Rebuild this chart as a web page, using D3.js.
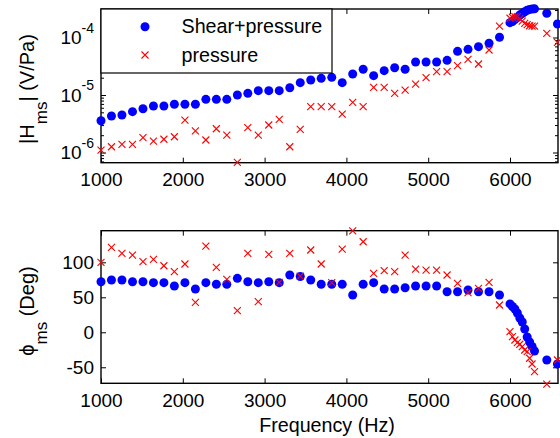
<!DOCTYPE html>
<html><head><meta charset="utf-8">
<script src="https://cdn.jsdelivr.net/npm/d3@7"></script>
<style>
body{margin:0;background:#fff}
svg text{font-family:"Liberation Sans",Arial,sans-serif;fill:#000}
</style></head><body>
<svg id="fig" width="560" height="438"></svg>
<script>
// Measurement frequencies (Hz)
const freq = [1000,1128,1256,1385,1513,1641,1769,1897,2026,2154,2282,2410,2538,2667,2795,2923,3051,3179,3308,3436,
  3564,3692,3821,3949,4077,4205,4333,4462,4590,4718,4846,4974,5103,5231,5359,5487,5615,5744,5872,6000,
  6030,6060,6090,6120,6150,6180,6210,6240,6270,6300,6450,6580];
// |H_ms| magnitude (V/Pa)
const shearMag = [3.57e-6,4.31e-6,4.49e-6,5.13e-6,5.78e-6,6.44e-6,6.44e-6,6.9e-6,6.9e-6,6.9e-6,8.4e-6,8.4e-6,8.4e-6,1.0e-5,1.07e-5,1.19e-5,1.19e-5,1.19e-5,1.34e-5,1.64e-5,
  1.82e-5,1.95e-5,2.03e-5,1.64e-5,2.32e-5,2.8e-5,2.17e-5,2.65e-5,2.98e-5,2.8e-5,3.75e-5,3.75e-5,3.75e-5,4.01e-5,5.75e-5,6.23e-5,6.92e-5,7.93e-5,1.01e-4,1.81e-4,
  1.9e-4,2.06e-4,2.23e-4,2.46e-4,2.61e-4,2.81e-4,2.98e-4,3.08e-4,3.12e-4,3.15e-4,2.64e-4,1.72e-4];
const pressMag = [1.10e-6,1.26e-6,1.39e-6,1.39e-6,1.81e-6,1.58e-6,1.70e-6,1.88e-6,3.67e-6,2.37e-6,1.65e-6,2.59e-6,2.01e-6,6.76e-7,2.70e-6,2.01e-6,3.01e-6,3.78e-6,1.26e-6,2.53e-6,
  6.3e-6,6.3e-6,6.26e-6,4.67e-6,7.46e-6,6.26e-6,1.36e-5,1.36e-5,1.07e-5,1.22e-5,1.55e-5,2.0e-5,2.54e-5,2.54e-5,3.23e-5,4.18e-5,3.46e-5,6.06e-5,1.58e-4,2.16e-4,
  2.25e-4,2.3e-4,2.3e-4,2.12e-4,1.93e-4,1.76e-4,1.68e-4,1.6e-4,1.58e-4,1.58e-4,1.18e-4,8.2e-5];
// phi_ms phase (degrees)
const shearPhase = [72.3,74.7,74.7,72.3,72.3,70.9,70.9,66.1,70.9,61.9,70.9,68.6,68.6,77.1,72.3,70.9,72.3,70.9,81.9,79.7,
  74.7,68.6,68.6,68.6,53.3,68.6,70.9,61.9,61.9,63.7,66.1,66.1,66.1,58,58,60.4,58,58,53.3,40.6,
  36.9,33.3,27.6,20.4,14.7,4.7,-6.7,-13.9,-20.3,-26.7,-39.6,-45.3];
const pressPhase = [100,121.4,112.9,110.4,100.9,104.3,95.1,86.6,97.6,42.9,123.3,92.9,75.7,30.9,112.9,43.7,111.4,71.4,112.9,80.4,
  117.6,97.6,70.9,119,145,129.4,84.3,88,86.6,110.4,90.4,89,89,81.9,70,56.6,62.9,71.4,39,0.9,
  -6.3,-11,-14.9,-17.1,-20.6,-25.3,-27.7,-37.1,-45.3,-56.3,-74,-39.6];

const freqTicks = [1000,2000,3000,4000,5000,6000];
const magTicks = [1e-6,1e-5,1e-4];
const phaseTicks = [-50,0,50,100];
const seriesNames = ["Shear+pressure","pressure"];

const BLUE = "#0000ff", RED = "#ff0000";
const svg = d3.select("#fig");
const L = 101, R = 558;
const x = d3.scaleLinear().domain([1000, 6587]).range([L, R]);
const yMag = d3.scaleLog().domain([6.65e-7, 3.13e-4]).range([162.7, 9]);
const yPh = d3.scaleLinear().domain([-72.9, 145.2]).range([383.3, 230.7]);

function styleAxis(g, fs) {
  g.attr("font-family", null).attr("font-size", null);
  g.select(".domain").remove();
  g.selectAll(".tick line").attr("stroke", "#000").attr("stroke-width", 1);
  g.selectAll("text").attr("font-size", fs).attr("fill", "#000");
}

function frame(y, top, bottom, yTicks, minor) {
  const g = svg.append("g");
  // x axes (bottom with labels, top ticks only)
  g.append("g").attr("transform", `translate(0,${bottom})`)
    .call(d3.axisBottom(x).tickValues(freqTicks).tickSize(-5).tickSizeOuter(0).tickPadding(10).tickFormat(d3.format("d")))
    .call(a => styleAxis(a, 19));
  g.append("g").attr("transform", `translate(0,${top})`)
    .call(d3.axisTop(x).tickValues(freqTicks).tickSize(-5).tickSizeOuter(0).tickFormat(""))
    .call(a => styleAxis(a, 19));
  // y axes
  const left = g.append("g").attr("transform", `translate(${L},0)`)
    .call(d3.axisLeft(y).tickValues(yTicks).tickSize(-5).tickSizeOuter(0).tickPadding(7).tickFormat(d => d))
    .call(a => styleAxis(a, 19));
  g.append("g").attr("transform", `translate(${R},0)`)
    .call(d3.axisRight(y).tickValues(yTicks).tickSize(-5).tickSizeOuter(0).tickFormat(""))
    .call(a => styleAxis(a, 19));
  if (minor) {
    g.append("g").attr("transform", `translate(${L},0)`)
      .call(d3.axisLeft(y).tickValues(minor).tickSize(-3).tickSizeOuter(0).tickFormat(""))
      .call(a => styleAxis(a, 19));
    g.append("g").attr("transform", `translate(${R},0)`)
      .call(d3.axisRight(y).tickValues(minor).tickSize(-3).tickSizeOuter(0).tickFormat(""))
      .call(a => styleAxis(a, 19));
  }
  g.append("rect").attr("x", L).attr("y", top).attr("width", R - L).attr("height", bottom - top)
    .attr("fill", "none").attr("stroke", "#000").attr("stroke-width", 1.4);
  return left;
}

function crossPath(s) { return `M${-s},${-s}L${s},${s}M${-s},${s}L${s},${-s}`; }

function markers(g, xs, ys, yScale, kind) {
  if (kind === "dot") {
    g.selectAll(null).data(xs).enter().append("circle")
      .attr("cx", (d) => x(d)).attr("cy", (d, i) => yScale(ys[i])).attr("r", 4.5).attr("fill", BLUE);
  } else {
    g.selectAll(null).data(xs).enter().append("path")
      .attr("transform", (d, i) => `translate(${x(d)},${yScale(ys[i])})`)
      .attr("d", crossPath(3.5)).attr("stroke", RED).attr("stroke-width", 1.1).attr("fill", "none");
  }
}

// ---- magnitude panel (log scale) ----
const minorMag = [];
[1e-7, 1e-6, 1e-5, 1e-4].forEach(dec => { for (let k = 2; k <= 9; k++) { const v = k * dec; if (v > 6.65e-7 && v < 3.13e-4) minorMag.push(v); } });
const magLeft = frame(yMag, 9, 162.7, magTicks, minorMag);
magLeft.selectAll(".tick text").each(function (d) {
  const t = d3.select(this).text(null);
  t.append("tspan").text("10");
  t.append("tspan").attr("dy", -11.5).attr("font-size", 14).text(Math.round(Math.log10(d)));
});
const gm = svg.append("g");
markers(gm, freq, shearMag, yMag, "dot");
markers(gm, freq, pressMag, yMag, "cross");

// legend
const lg = svg.append("g");
lg.append("rect").attr("x", L).attr("y", 9).attr("width", 231).attr("height", 64)
  .attr("fill", "#fff").attr("stroke", "#000").attr("stroke-width", 1.2);
lg.append("circle").attr("cx", 145).attr("cy", 26.7).attr("r", 4.5).attr("fill", BLUE);
lg.append("path").attr("transform", "translate(145,55)").attr("d", crossPath(3.5))
  .attr("stroke", RED).attr("stroke-width", 1.1).attr("fill", "none");
lg.append("text").attr("x", 181.5).attr("y", 33.4).attr("font-size", 19.7).text(seriesNames[0]);
lg.append("text").attr("x", 181.5).attr("y", 61.7).attr("font-size", 19.7).text(seriesNames[1]);

// ---- phase panel ----
frame(yPh, 230.7, 383.3, phaseTicks, null);
const gp = svg.append("g");
markers(gp, freq, shearPhase, yPh, "dot");
markers(gp, freq, pressPhase, yPh, "cross");

// axis titles
svg.append("text").attr("x", 327).attr("y", 431.5).attr("text-anchor", "middle").attr("font-size", 19.7).text("Frequency (Hz)");

const yl1 = svg.append("text").attr("transform", "translate(34,89) rotate(-90)")
  .attr("text-anchor", "middle").attr("font-size", 20);
yl1.append("tspan").text("|H");
yl1.append("tspan").attr("dy", 13).attr("font-size", 17).text("ms");
yl1.append("tspan").attr("dy", -13).text("| (V/Pa)");

const yl2 = svg.append("text").attr("transform", "translate(34,311) rotate(-90)")
  .attr("text-anchor", "middle").attr("font-size", 20);
yl2.append("tspan").text("\u03d5");
yl2.append("tspan").attr("dy", 13).attr("font-size", 17).text("ms");
yl2.append("tspan").attr("dy", -13).text(" (Deg)");
</script>
</body></html>
